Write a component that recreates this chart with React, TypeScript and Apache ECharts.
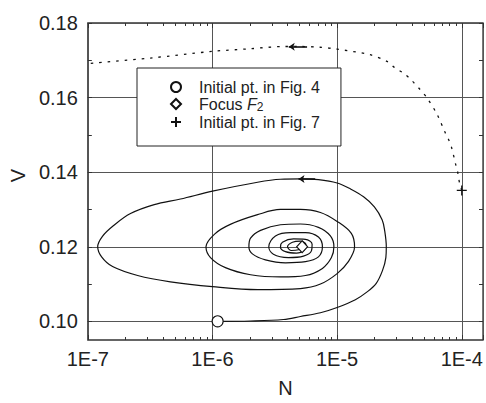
import { useEffect, useRef } from 'react';
import * as echarts from 'echarts';

const xMin = 1e-7;
const xMax = 1.48e-4;
const yMin = 0.095;
const yMax = 0.18;
const yLabelValues = [0.10, 0.12, 0.14, 0.16, 0.18];
const yTickValues = [0.10, 0.11, 0.12, 0.13, 0.14, 0.15, 0.16, 0.17, 0.18];
const xMinorTicks = [
  2e-7, 3e-7, 4e-7, 5e-7, 6e-7, 7e-7, 8e-7, 9e-7,
  2e-6, 3e-6, 4e-6, 5e-6, 6e-6, 7e-6, 8e-6, 9e-6,
  2e-5, 3e-5, 4e-5, 5e-5, 6e-5, 7e-5, 8e-5, 9e-5,
];

// Trajectory starting at the initial point of Fig. 4 spiralling into focus F2
const spiralN = [
  1.10e-6, 2.02e-6, 3.71e-6, 5.08e-6, 7.35e-6, 1.0e-5, 1.40e-5, 1.74e-5, 2.06e-5, 2.31e-5,
  2.46e-5, 2.48e-5, 2.41e-5, 2.30e-5, 1.99e-5, 1.63e-5, 1.28e-5, 1.0e-5, 7.08e-6, 5.08e-6,
  3.51e-6, 2.30e-6, 1.0e-6, 5.54e-7, 3.41e-7, 2.20e-7, 1.61e-7, 1.31e-7, 1.20e-7, 1.29e-7,
  1.58e-7, 2.51e-7, 4.60e-7, 1.0e-6, 2.30e-6, 5.08e-6, 7.35e-6, 1.0e-5, 1.23e-5, 1.38e-5,
  1.30e-5, 1.0e-5, 7.35e-6, 5.08e-6, 3.51e-6, 2.30e-6, 1.39e-6, 1.04e-6, 8.87e-7, 9.64e-7,
  1.27e-6, 2.02e-6, 3.51e-6, 5.57e-6, 7.62e-6, 9.0e-6, 9.42e-6, 8.83e-6, 7.08e-6, 5.08e-6,
  3.51e-6, 2.43e-6, 2.02e-6, 1.96e-6, 2.09e-6, 2.66e-6, 3.85e-6, 5.57e-6, 7.08e-6, 7.62e-6,
  7.08e-6, 5.57e-6, 4.22e-6, 3.20e-6, 2.83e-6, 3.08e-6, 4.06e-6, 5.37e-6, 6.22e-6, 6.30e-6,
  5.57e-6, 4.47e-6, 3.64e-6, 3.51e-6, 3.85e-6, 4.72e-6, 5.47e-6, 5.62e-6, 5.08e-6, 4.38e-6,
  4.0e-6, 4.30e-6, 4.90e-6, 5.24e-6,
];
const spiralV = [
  0.1000, 0.1001, 0.1005, 0.1013, 0.1023, 0.1037, 0.1058, 0.1079, 0.1102, 0.1136,
  0.1171, 0.1200, 0.1242, 0.1272, 0.1307, 0.1334, 0.1355, 0.1371, 0.1380, 0.1382,
  0.1381, 0.1373, 0.1349, 0.1328, 0.1313, 0.1289, 0.1257, 0.1228, 0.1200, 0.1173,
  0.1147, 0.1123, 0.1106, 0.1093, 0.1085, 0.1088, 0.1100, 0.1128, 0.1160, 0.1200,
  0.1236, 0.1268, 0.1292, 0.1300, 0.1300, 0.1286, 0.1260, 0.1234, 0.1200, 0.1171,
  0.1144, 0.1125, 0.1119, 0.1123, 0.1142, 0.1171, 0.1200, 0.1229, 0.1252, 0.1261,
  0.1259, 0.1244, 0.1223, 0.1200, 0.1181, 0.1165, 0.1157, 0.1160, 0.1173, 0.1200,
  0.1226, 0.1238, 0.1238, 0.1229, 0.1200, 0.1180, 0.1171, 0.1175, 0.1189, 0.1207,
  0.1220, 0.1221, 0.1212, 0.1199, 0.1187, 0.1183, 0.1192, 0.1206, 0.1215, 0.1212,
  0.1200, 0.1190, 0.1192, 0.1200,
];

// Trajectory starting at the initial point of Fig. 7 (dotted)
const dottedN = [
  1.0e-4, 9.57e-5, 9.27e-5, 8.93e-5, 8.30e-5, 7.85e-5, 7.29e-5, 6.34e-5, 5.27e-5, 4.59e-5,
  3.94e-5, 3.42e-5, 2.90e-5, 2.51e-5, 1.83e-5, 1.0e-5, 7.28e-6, 5.06e-6, 3.78e-6, 2.02e-6,
  1.0e-6, 3.18e-7, 1.0e-7,
];
const dottedV = [
  0.1351, 0.1373, 0.1400, 0.1421, 0.1465, 0.1487, 0.1509, 0.1555, 0.1599, 0.1623,
  0.1647, 0.1665, 0.1680, 0.1697, 0.1715, 0.1730, 0.1735, 0.1737, 0.1737, 0.1731,
  0.1724, 0.1706, 0.1691,
];

const initialPt4 = [1.10e-6, 0.1000];
const focusF2 = [5.24e-6, 0.1200];
const initialPt7 = [1.0e-4, 0.1351];

const spiralArrowN = [4.9e-6, 6.67e-6];
const spiralArrowV = 0.1382;
const dottedArrowN = [4.09e-6, 5.74e-6];
const dottedArrowV = 0.1736;

const legendNames = ['Initial pt. in Fig. 4', 'Focus F2', 'Initial pt. in Fig. 7'];

const FONT = '"Liberation Sans", Arial, Helvetica, sans-serif';
const INK = '#111';
const TXT = '#222';

function zip(a: number[], b: number[]) {
  const n = Math.min(a.length, b.length);
  const out: number[][] = [];
  for (let i = 0; i < n; i++) out.push([a[i], b[i]]);
  return out;
}

export default function App() {
  const ref = useRef<HTMLDivElement>(null);
  useEffect(() => {
    if (!ref.current) return;
    const chart = echarts.init(ref.current, null, { renderer: 'svg' });
    const logLabel = (v: number) => {
      const e = Math.log10(v);
      return Math.abs(e - Math.round(e)) < 1e-6 ? '1E' + Math.round(e) : '';
    };
    const minorX = (pos: 'top' | 'bottom') => ({
      type: 'log',
      logBase: 10,
      gridIndex: 0,
      position: pos,
      min: xMin,
      max: xMax,
      axisLine: { show: false },
      axisLabel: { show: false },
      splitLine: { show: false },
      axisTick: { show: true, inside: true, length: 3, customValues: xMinorTicks, lineStyle: { color: '#333', width: 1 } },
    });
    const option: any = {
      animation: false,
      backgroundColor: '#fff',
      textStyle: { fontFamily: FONT },
      grid: {
        left: 87,
        top: 23,
        right: 3,
        bottom: 57,
        show: true,
        borderColor: '#333',
        borderWidth: 1.3,
        backgroundColor: 'transparent',
        containLabel: false,
      },
      legend: {
        show: true,
        data: legendNames,
        orient: 'vertical',
        left: 137,
        top: 68,
        padding: [11, 21, 16, 33],
        itemGap: 1,
        itemWidth: 10,
        itemHeight: 10,
        backgroundColor: '#fff',
        borderColor: '#222',
        borderWidth: 1,
        selectedMode: false,
        textStyle: {
          fontSize: 16,
          color: TXT,
          fontFamily: FONT,
          rich: {
            t: { fontSize: 16, color: TXT, fontFamily: FONT, padding: [0, 0, 0, 13] },
            i: { fontSize: 16, fontStyle: 'italic', color: TXT, fontFamily: FONT },
            s: { fontSize: 12, color: TXT, fontFamily: FONT, padding: [6, 0, 0, 0] },
          },
        },
        formatter: (name: string) =>
          name === 'Focus F2' ? '{t|Focus }{i|F}{s|2}' : '{t|' + name + '}',
      },
      xAxis: [
        {
          type: 'log',
          logBase: 10,
          min: xMin,
          max: xMax,
          position: 'bottom',
          axisLine: { show: false },
          axisTick: { show: true, inside: true, length: 5, lineStyle: { color: '#333' } },
          axisLabel: { formatter: logLabel, fontSize: 20, color: TXT, fontFamily: FONT, margin: 9 },
          splitLine: { show: true, lineStyle: { color: '#555', width: 1 } },
          name: 'N',
          nameLocation: 'middle',
          nameGap: 38,
          nameTextStyle: { fontSize: 20, color: TXT, fontFamily: FONT },
        },
        minorX('bottom'),
        {
          ...minorX('top'),
          axisTick: { show: true, inside: true, length: 5, lineStyle: { color: '#333' } },
        },
        minorX('top'),
      ],
      yAxis: [
        {
          type: 'value',
          min: yMin,
          max: yMax,
          position: 'left',
          axisLine: { show: false },
          axisTick: { show: true, inside: true, length: 4, customValues: yLabelValues, lineStyle: { color: '#333' } },
          axisLabel: {
            customValues: yLabelValues,
            formatter: (v: number) => v.toFixed(2),
            fontSize: 20,
            color: TXT,
            fontFamily: FONT,
            margin: 10,
          },
          splitLine: { show: true, lineStyle: { color: '#555', width: 1 } },
          name: 'V',
          nameLocation: 'middle',
          nameGap: 54,
          nameTextStyle: { fontSize: 20, color: TXT, fontFamily: FONT, padding: [0, 0, 0, 12] },
        },
        {
          type: 'value',
          min: yMin,
          max: yMax,
          position: 'left',
          axisLine: { show: false },
          axisLabel: { show: false },
          splitLine: { show: false },
          axisTick: { show: true, inside: true, length: 4, customValues: yTickValues, lineStyle: { color: '#333' } },
        },
        {
          type: 'value',
          min: yMin,
          max: yMax,
          position: 'right',
          axisLine: { show: false },
          axisLabel: { show: false },
          splitLine: { show: false },
          axisTick: { show: true, inside: true, length: 4, customValues: yTickValues, lineStyle: { color: '#333' } },
        },
      ],
      series: [
        {
          name: 'spiral',
          type: 'line',
          data: zip(spiralN, spiralV),
          smooth: 0.35,
          showSymbol: false,
          symbol: 'none',
          lineStyle: { color: INK, width: 1.2 },
          silent: true,
          z: 3,
          markLine: {
            silent: true,
            symbol: ['arrow', 'none'],
            symbolSize: 6,
            label: { show: false },
            lineStyle: { color: INK, width: 1.6, type: 'solid' },
            data: [[{ coord: [spiralArrowN[0], spiralArrowV] }, { coord: [spiralArrowN[1], spiralArrowV] }]],
          },
        },
        {
          name: 'dotted',
          type: 'line',
          data: zip(dottedN, dottedV),
          smooth: 0.3,
          showSymbol: false,
          symbol: 'none',
          lineStyle: { color: INK, width: 1.3, type: [2.5, 6] },
          silent: true,
          z: 3,
          markLine: {
            silent: true,
            symbol: ['arrow', 'none'],
            symbolSize: 6,
            label: { show: false },
            lineStyle: { color: INK, width: 1.6, type: 'solid' },
            data: [[{ coord: [dottedArrowN[0], dottedArrowV] }, { coord: [dottedArrowN[1], dottedArrowV] }]],
          },
        },
        {
          name: legendNames[0],
          type: 'scatter',
          data: [initialPt4],
          symbol: 'circle',
          symbolSize: 11,
          itemStyle: { color: '#fff', borderColor: INK, borderWidth: 1.1, opacity: 1 },
          z: 5,
        },
        {
          name: legendNames[1],
          type: 'scatter',
          data: [focusF2],
          symbol: 'diamond',
          symbolSize: [11, 12],
          itemStyle: { color: '#fff', borderColor: INK, borderWidth: 1.1, opacity: 1 },
          z: 5,
        },
        {
          name: legendNames[2],
          type: 'scatter',
          data: [initialPt7],
          symbol: 'path://M0,5L10,5M5,0L5,10',
          symbolSize: 10,
          itemStyle: { color: INK, borderColor: INK, borderWidth: 1.3, opacity: 1 },
          z: 5,
        },
      ],
    };
    chart.setOption(option);
    return () => chart.dispose();
  }, []);
  return (
    <div
      ref={ref}
      style={{ position: 'fixed', left: 0, top: 0, width: 486, height: 403, background: '#fff' }}
    />
  );
}
